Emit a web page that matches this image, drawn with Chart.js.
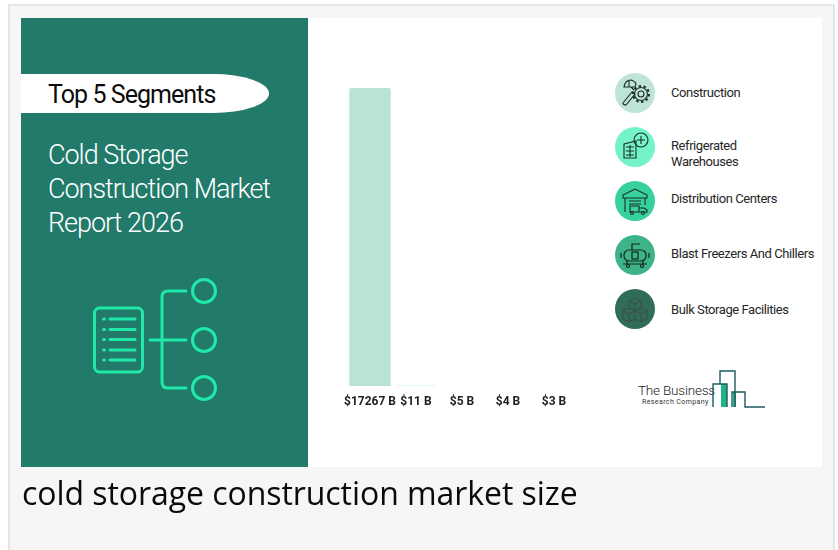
<!DOCTYPE html>
<html>
<head>
<meta charset="utf-8">
<title>cold storage construction market size</title>
<script src="https://cdn.jsdelivr.net/npm/chart.js@4"></script>
<style>
  html, body { margin: 0; padding: 0; background: #fff; }
  #page { position: relative; width: 838px; height: 550px; overflow: hidden; font-family: Roboto, sans-serif; }
  #frame { position: absolute; left: 8px; top: 4px; width: 823px; height: 560px; background: #f6f6f6; border: 2px solid #e6e6e6; }
  #card { position: absolute; left: 21px; top: 18px; width: 801px; height: 449px; background: #fff; }
  #side { position: absolute; left: 21px; top: 18px; width: 287px; height: 449px; background: #217a6a; }
  #pill { position: absolute; left: 0; top: 56px; width: 248px; height: 39px; background: #fff; border-radius: 0 56px 56px 0 / 0 50% 50% 0; }
  #pill span { position: absolute; left: 27px; top: 4px; font-size: 25px; line-height: 33px; letter-spacing: -0.95px; color: #0c0c0c; white-space: nowrap; }
  #report { position: absolute; left: 27px; top: 120px; font-size: 27px; line-height: 34px; letter-spacing: -1.03px; color: #fff; font-weight: 300; white-space: nowrap; }
  #chart-wrap { position: absolute; left: 337px; top: 70px; width: 250px; height: 345px; }
  .seg { position: absolute; left: 671px; font-size: 13px; line-height: 16px; color: #262626; letter-spacing: -0.43px; white-space: nowrap; }
  .dot { position: absolute; left: 615px; width: 40px; height: 40px; border-radius: 50%; }
  .dot svg { display: block; }
  #logo-a { position: absolute; left: 638px; top: 384px; font-size: 13.5px; line-height: 13px; font-weight: 300; color: #222; white-space: nowrap; letter-spacing: -0.2px; }
  #logo-b { position: absolute; left: 642px; top: 399px; font-size: 7px; line-height: 7px; color: #333; white-space: nowrap; letter-spacing: 0.4px; }
  #caption { position: absolute; left: 22px; top: 471px; font-family: "Open Sans", sans-serif; font-size: 32px; line-height: 44px; letter-spacing: -0.06px; color: #0a0a0a; white-space: nowrap; }
  svg.abs { position: absolute; left: 0; top: 0; }
</style>
</head>
<body>
<div id="page">
  <div id="frame"></div>
  <div id="card"></div>
  <div id="side">
    <div id="pill"><span>Top 5 Segments</span></div>
    <div id="report">Cold Storage<br>Construction Market<br>Report 2026</div>
  </div>

  <svg class="abs" width="838" height="550" fill="none" stroke="#20e8a9" stroke-width="3" stroke-linecap="round">
    <rect x="94.5" y="308" width="48" height="64" rx="5"/>
    <path d="M110 319H135M110 329.5H135M110 339.5H135M110 350H135M110 360H135"/>
    <path d="M103.5 319h1M103.5 329.5h1M103.5 339.5h1M103.5 350h1M103.5 360h1"/>
    <path d="M186 291H168q-6 0 -6 6V382q0 6 6 6H186M150 340H186"/>
    <circle cx="204" cy="291" r="11.5"/>
    <circle cx="204" cy="340" r="11.5"/>
    <circle cx="204" cy="388" r="11.5"/>
  </svg>

  <div id="chart-wrap"><canvas id="segments-chart" width="250" height="345"></canvas></div>

  <div class="dot" style="top:73px;background:#bde4d5">
    <svg width="40" height="40" fill="none" stroke="#1c2b28" stroke-width="1.1">
      <circle cx="26" cy="21" r="3"/><circle cx="26" cy="21" r="6.5"/><circle cx="26" cy="21" r="8" stroke-dasharray="2.5 2.5" stroke-width="2"/>
      <path d="M9 14q1-7 7-7q4 1 5 4l-1 3H9zM8 30l9-11 3 2-9 11q-3 0-3-2zM14 8v6M19 17l-3-3"/>
    </svg>
  </div>
  <div class="dot" style="top:127px;background:#74f4c6">
    <svg width="40" height="40" fill="none" stroke="#1c2b28" stroke-width="1.1">
      <path d="M9 17l12-3v17H9zM11 20h8M11 24h8M11 28h8M15 18v12"/>
      <circle cx="26" cy="13" r="7"/><path d="M26 9v8M22 13h8"/>
    </svg>
  </div>
  <div class="dot" style="top:181px;background:#37d29b">
    <svg width="40" height="40" fill="none" stroke="#1c2b28" stroke-width="1.1">
      <path d="M8 14l12-6 12 6v3H8zM10 17v14M30 17v7M14 20h12M14 23h12"/>
      <path d="M15 25h9v6h-9zM24 27h5l3 2v2h-8z"/><circle cx="17" cy="32" r="1.5"/><circle cx="28" cy="32" r="1.5"/>
    </svg>
  </div>
  <div class="dot" style="top:235px;background:#3db488">
    <svg width="40" height="40" fill="none" stroke="#12241f" stroke-width="1.2">
      <rect x="9" y="15" width="22" height="11" rx="5"/><rect x="17" y="17" width="6" height="7"/>
      <path d="M17 15V9H25M8 29H32M12 26v3M28 26v3M6 18v5M34 18v5"/><circle cx="13" cy="31" r="1.5"/><circle cx="27" cy="31" r="1.5"/>
    </svg>
  </div>
  <div class="dot" style="top:289px;background:#2f6d58">
    <svg width="40" height="40" fill="none" stroke="#3f4f49" stroke-width="1.1">
      <path d="M14 12l6-3 6 3v7l-6 3-6-3zM14 12l6 3 6-3M20 15v7"/>
      <path d="M8 21l6-2 6 3v8l-6 3-6-3zM20 22l6-3 6 2v9l-6 3-6-3M14 25v8M26 25v8M8 22l6 3 6-3 6 3 6-3"/>
    </svg>
  </div>

  <div class="seg" style="top:85px">Construction</div>
  <div class="seg" style="top:138px">Refrigerated<br>Warehouses</div>
  <div class="seg" style="top:191px">Distribution Centers</div>
  <div class="seg" style="top:246px">Blast Freezers And Chillers</div>
  <div class="seg" style="top:302px">Bulk Storage Facilities</div>

  <div id="logo-a">The Business</div>
  <div id="logo-b">Research Company</div>
  <svg class="abs" width="838" height="550" fill="none" stroke="#1d5a60" stroke-width="1.4">
    <rect x="721" y="384" width="6" height="23" fill="#20b48a" stroke="none"/>
    <rect x="733" y="392" width="3" height="15" fill="#20b48a" stroke="none"/>
    <path d="M713 407V384H727V407M720 384V371H735V407M732 407V392H745V407H765"/>
  </svg>

  <div id="caption">cold storage construction market size</div>
</div>

<script>
var CATEGORIES = ['$17267 B', '$11 B', '$5 B', '$4 B', '$3 B'];
var VALUES = [17267, 11, 5, 4, 3];
var BAR_COLORS = ['#b9e3d3', '#74f4c6', '#37d29b', '#3db488', '#2f6d58'];

function drawSegments(ctx) {
  new Chart(ctx, {
    type: 'bar',
    data: {
      labels: CATEGORIES,
      datasets: [{
        data: VALUES,
        backgroundColor: BAR_COLORS,
        barPercentage: 0.9,
        categoryPercentage: 1,
        borderRadius: 2,
        borderSkipped: 'bottom',
        inflateAmount: 0
      }]
    },
    options: {
      responsive: false,
      animation: false,
      devicePixelRatio: 1,
      layout: { padding: { left: 10, right: 10, top: 18, bottom: 0 } },
      plugins: { legend: { display: false }, tooltip: { enabled: false } },
      scales: {
        x: {
          grid: { display: false },
          border: { display: false },
          afterFit: function (scale) { scale.height = 29; },
          ticks: {
            autoSkip: false,
            maxRotation: 0,
            padding: 1,
            color: '#222',
            font: { family: 'Roboto', size: 12, weight: 'bold' }
          }
        },
        y: { display: false, min: 0, max: 17267 }
      }
    }
  });
}

drawSegments(document.getElementById('segments-chart').getContext('2d'));
</script>
</body>
</html>
